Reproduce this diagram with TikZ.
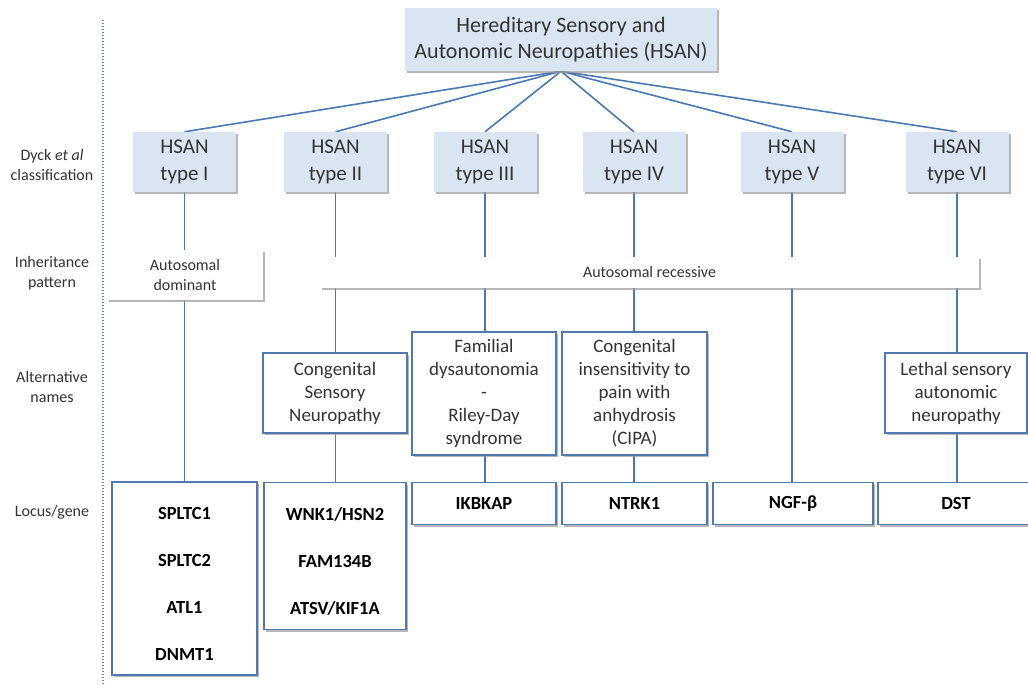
\documentclass[tikz,border=0pt]{standalone}
\usepackage{fontspec}
\setmainfont{Carlito}
\usetikzlibrary{shadows}
\definecolor{boxfill}{HTML}{DBE5F1}
\definecolor{edge}{HTML}{5079B0}
\definecolor{conn}{HTML}{4A78B0}
\definecolor{txt}{HTML}{333333}
\definecolor{dotc}{HTML}{7088AE}
\pgfdeclarelayer{bg}
\pgfsetlayers{bg,main}
\begin{document}
\begin{tikzpicture}[x=1pt,y=-1pt,
  shad/.style={drop shadow={shadow xshift=2pt,shadow yshift=-2pt,fill=black!40,opacity=0.7}},
  titlebox/.style={fill=boxfill,shad,inner sep=0pt,align=center,text=txt,font=\fontsize{22}{26}\selectfont,minimum width=312pt,minimum height=63pt},
  hsan/.style={fill=boxfill,shad,inner sep=0pt,align=center,text=txt,font=\fontsize{21}{27}\selectfont,minimum width=103pt,minimum height=60pt},
  inh/.style={fill=white,shad,inner sep=0pt,align=center,text=txt,font=\fontsize{16}{20}\selectfont},
  alt/.style={draw=edge,line width=1.6pt,fill=white,shad,inner sep=0pt,align=center,text=txt,font=\fontsize{19}{23}\selectfont},
  locus/.style={draw=edge,line width=1.6pt,fill=white,shad,inner sep=0pt,align=center,text=black,font=\fontsize{18.5}{47}\selectfont\bfseries},
  genetext/.style={inner sep=0pt,align=center,text=black,font=\fontsize{18.5}{47}\selectfont\bfseries},
  lbl/.style={align=center,text=txt,font=\fontsize{16}{20}\selectfont},
  link/.style={draw=conn,line width=1.6pt}
]
\useasboundingbox (0,0) rectangle (1028,685);
\begin{pgfonlayer}{bg}
\fill[white] (0,0) rectangle (1028,685);
\end{pgfonlayer}

% dotted separator
\coordinate (d1) at (103,20);
\coordinate (d2) at (103,685);
\draw[dotc,line width=1.4pt,dash pattern=on 1.4pt off 1.6pt] (d1) -- (d2);

% left labels
\node[lbl] (c1) at (52,165) {Dyck \textit{et al}\\classification};
\node[lbl] (c2) at (52,273) {Inheritance\\pattern};
\node[lbl] (c3) at (52,387) {Alternative\\names};
\node[lbl] (c4) at (52,512) {Locus/gene};

% title
\node[titlebox] (top) at (561,39.5) {Hereditary Sensory and\\Autonomic Neuropathies (HSAN)};

% HSAN types
\node[hsan] (h1) at (184.5,162) {HSAN\\type I};
\node[hsan] (h2) at (335.5,162) {HSAN\\type II};
\node[hsan] (h3) at (485,162) {HSAN\\type III};
\node[hsan] (h4) at (634,162) {HSAN\\type IV};
\node[hsan] (h5) at (792,162) {HSAN\\type V};
\node[hsan] (h6) at (957,162) {HSAN\\type VI};

% inheritance
\node[inh,minimum width=156pt,minimum height=50pt] (dom) at (185,275) {Autosomal\\dominant};
\node[inh,minimum width=659pt,minimum height=31pt] (rec) at (649.5,272.5) {Autosomal recessive};

% alternative names
\node[alt,minimum width=144pt,minimum height=80pt] (a2) at (335,393) {Congenital\\Sensory\\Neuropathy};
\node[alt,minimum width=144pt,minimum height=123pt] (a3) at (484,393.5) {Familial\\dysautonomia\\-\\Riley-Day\\syndrome};
\node[alt,minimum width=145pt,minimum height=123pt] (a4) at (634.5,393.5) {Congenital\\insensitivity to\\pain with\\anhydrosis\\(CIPA)};
\node[alt,minimum width=142pt,minimum height=80pt] (a6) at (956,393) {Lethal sensory\\autonomic\\neuropathy};

% locus / gene
\node[locus,minimum width=145pt,minimum height=193pt] (l1) at (184.5,578.5) {};
\node[genetext] (t1) at ([yshift=-5pt]l1.center) {SPLTC1\\SPLTC2\\ATL1\\DNMT1};
\node[locus,minimum width=142pt,minimum height=147pt] (l2) at (335,556) {};
\node[genetext] (t2) at ([yshift=-5pt]l2.center) {WNK1/HSN2\\FAM134B\\ATSV/KIF1A};
\node[locus,minimum width=144pt,minimum height=42pt] (l3) at (484,503.5) {IKBKAP};
\node[locus,minimum width=145pt,minimum height=42pt] (l4) at (634.5,503.5) {NTRK1};
\node[locus,minimum width=160pt,minimum height=42pt] (l5) at (793,503.5) {NGF-β};
\node[locus,minimum width=156pt,minimum height=42pt] (l6) at (956,503.5) {DST};

% connectors
\begin{pgfonlayer}{bg}
\foreach \h in {h1,h2,h3,h4,h5,h6} {\draw[link] (top.south) -- (\h.north);}
\draw[link] (h1.south) -- (h1.south |- l1.north);
\draw[link] (h2.south) -- (h2.south |- l2.north);
\draw[link] (h3.south) -- (h3.south |- l3.north);
\draw[link] (h4.south) -- (h4.south |- l4.north);
\draw[link] (h5.south) -- (h5.south |- l5.north);
\draw[link] (h6.south) -- (h6.south |- l6.north);
\end{pgfonlayer}
\end{tikzpicture}
\end{document}
